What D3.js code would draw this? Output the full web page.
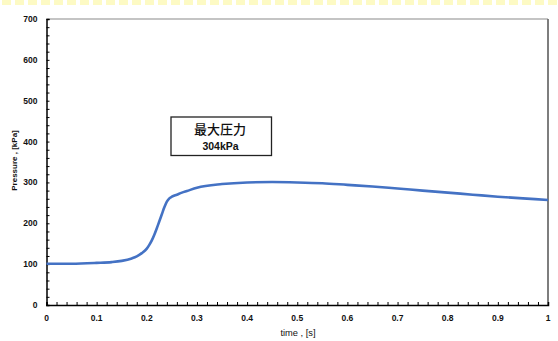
<!DOCTYPE html>
<html><head><meta charset="utf-8">
<script src="https://cdn.jsdelivr.net/npm/d3@7"></script>
<style>html,body{margin:0;padding:0;background:#fff;}svg{display:block;}</style>
</head><body>
<script>
const times  = [0,0.05,0.1,0.13,0.15,0.17,0.18,0.19,0.2,0.205,0.21,0.215,0.22,0.225,0.23,0.235,0.24,0.245,0.25,0.26,0.27,0.28,0.3,0.35,0.4,0.45,0.5,0.55,0.6,0.65,0.7,0.75,0.8,0.85,0.9,0.95,1.0];
const pressure = [101,101,103,105,108,114,119,127,138,147,158,172,188,205,222,239,253,261,265,270,275,279,287,296,300,301,300,298,294,290,285,280,275,270,265,261,257];
const xTicks = [0,0.1,0.2,0.3,0.4,0.5,0.6,0.7,0.8,0.9,1];
const yTicks = [0,100,200,300,400,500,600,700];
const annotation = ["最大圧力","304kPa"];

const W=558,H=341;
const svg=d3.select("body").append("svg").attr("width",W).attr("height",H);
const m={l:46.5,r:548,t:19,b:305};
const x=d3.scaleLinear().domain([0,1]).range([m.l,m.r]);
const y=d3.scaleLinear().domain([0,700]).range([m.b,m.t]);

// yellow dashed top strip
const strip=svg.append("g");
for(let i=0;i*13<W;i++){
  strip.append("rect").attr("x",i*13+2).attr("y",0).attr("width",9).attr("height",5).attr("fill","#fdfac4");
}

// frame top/right
svg.append("line").attr("x1",m.l).attr("x2",m.r).attr("y1",m.t).attr("y2",m.t).attr("stroke","#8a8a8a").attr("stroke-width",1.2);
svg.append("line").attr("x1",m.r).attr("x2",m.r).attr("y1",m.t).attr("y2",m.b).attr("stroke","#707070").attr("stroke-width",1.8);

// axes
const yAxis=d3.axisLeft(y).tickValues(d3.range(0,701,20)).tickSize(-3).tickFormat("");
const gy=svg.append("g").attr("transform",`translate(${m.l},0)`).call(yAxis);
const xAxis=d3.axisBottom(x).tickValues(d3.range(0,1.0001,0.02)).tickSize(-3).tickFormat("");
const gx=svg.append("g").attr("transform",`translate(0,${m.b})`).call(xAxis);
[gy,gx].forEach(g=>{g.selectAll("path").attr("stroke","#000").attr("stroke-width",1.5);g.selectAll("line").attr("stroke","#000");});

const font="'Liberation Sans', Arial, sans-serif";
svg.append("g").selectAll("text").data(yTicks).join("text")
  .attr("x",37.5).attr("y",d=>y(d)+3).attr("text-anchor","end")
  .attr("font-family",font).attr("font-weight","bold").attr("font-size",8.5).attr("fill","#111").text(d=>d);
svg.append("g").selectAll("text").data(xTicks).join("text")
  .attr("x",d=>x(d)).attr("y",321).attr("text-anchor","middle")
  .attr("font-family",font).attr("font-weight","bold").attr("font-size",8.5).attr("fill","#111").text(d=>d);

svg.append("text").attr("x",298).attr("y",336).attr("text-anchor","middle")
  .attr("font-family",font).attr("font-size",9.3).attr("fill","#111").text("time , [s]");
svg.append("text").attr("transform","translate(16.5,160.5) rotate(-90)").attr("text-anchor","middle")
  .attr("font-family",font).attr("font-weight","bold").attr("font-size",8).attr("fill","#111").text("Pressure , [kPa]");

// line
const data=times.map((t,i)=>({t,p:pressure[i]}));
svg.append("path").datum(data)
  .attr("d",d3.line().x(d=>x(d.t)).y(d=>y(d.p)).curve(d3.curveMonotoneX))
  .attr("fill","none").attr("stroke","#4472C4").attr("stroke-width",2.6);

// annotation box
svg.append("rect").attr("x",171).attr("y",117).attr("width",100.5).attr("height",38.5)
  .attr("fill","#fff").attr("stroke","#222").attr("stroke-width",1.3);
svg.append("text").attr("x",220).attr("y",133.5).attr("text-anchor","middle")
  .attr("font-family","'Noto Sans CJK JP', sans-serif").attr("font-weight",500).attr("font-size",13).attr("fill","#111").text(annotation[0]);
svg.append("text").attr("x",220.5).attr("y",149.5).attr("text-anchor","middle")
  .attr("font-family",font).attr("font-weight","bold").attr("font-size",10.5).attr("fill","#111").text(annotation[1]);
</script>
</body></html>
